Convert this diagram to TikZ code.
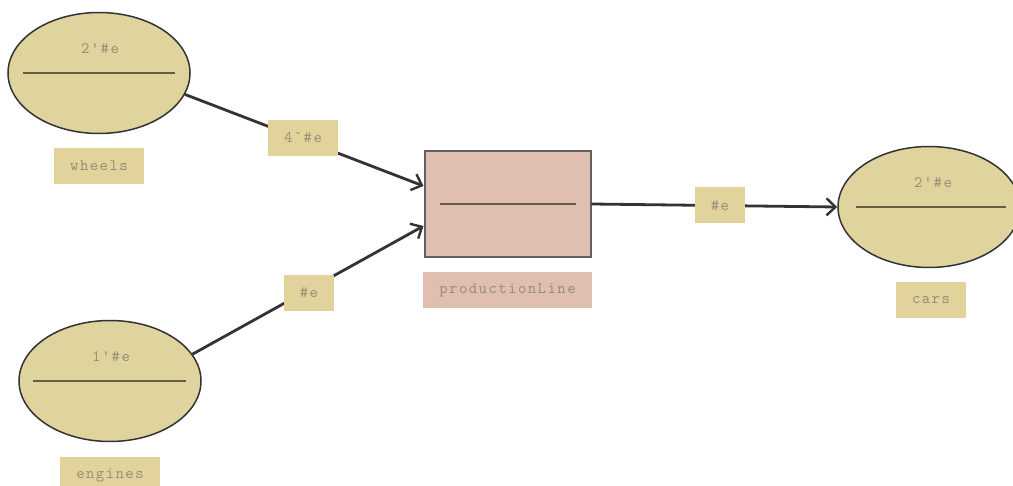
\documentclass[tikz,border=0pt]{standalone}
\usepackage{fontspec}
\usetikzlibrary{shapes.geometric,arrows.meta,calc}
\newfontfamily\petrimono{lmmono10-regular.otf}[LetterSpace=9]
\definecolor{placefill}{HTML}{E0D49E}
\definecolor{tagfill}{HTML}{E2D39C}
\definecolor{transfill}{HTML}{E0BEB0}
\definecolor{txtgray}{HTML}{988F78}
\definecolor{edgegray}{HTML}{333333}
\definecolor{barline}{HTML}{655C44}
\newcommand\petrifont{\petrimono\fontsize{16}{18}\selectfont}
\tikzset{
  place/.style={ellipse, draw=edgegray, line width=1.5pt, fill=placefill,
    minimum width=182pt, minimum height=121pt, inner sep=0pt},
  trans/.style={rectangle, draw=black!62, line width=2pt, fill=transfill,
    minimum width=166pt, minimum height=106pt, inner sep=0pt},
  tag/.style={rectangle, fill=tagfill, inner sep=0pt, minimum height=36pt,
    font=\petrifont, text=txtgray},
  ptag/.style={tag, fill=transfill},
  mark text/.style={font=\petrifont, text=txtgray, inner sep=0pt},
  bar/.style={draw=barline, line width=2.8pt},
  arc/.style={draw=edgegray, line width=2.8pt,
    -{Straight Barb[length=9pt,width=17pt,line width=2.4pt]}},
}
\begin{document}
\begin{tikzpicture}[x=1pt,y=-1pt]
\useasboundingbox (0,0) rectangle (1013,486);

% places
\node[place] (wheels) at (99,73) {};
\node[place] (engines) at (110,381) {};
\node[place] (cars) at (929,207) {};
% transition
\node[trans] (prod) at (507.5,204) {};

% separator bars and markings
\draw[bar] ($(wheels.center)+(-76,0)$) -- ($(wheels.center)+(76,0)$);
\draw[bar] ($(engines.center)+(-77,0)$) -- ($(engines.center)+(76,0)$);
\draw[bar] ($(cars.center)+(-73,0)$) -- ($(cars.center)+(77,0)$);
\draw[bar] ($(prod.center)+(-68,0)$) -- ($(prod.center)+(68,0)$);
\node[mark text] (mw) at (100,49) {2'\#e};
\node[mark text] (me) at (111,357) {1'\#e};
\node[mark text] (mc) at (933,183) {2'\#e};

% name tags
\node[tag, minimum width=90pt] (tw) at (99,166) {wheels};
\node[tag, minimum width=100pt] (te) at (110,475) {engines};
\node[tag, minimum width=70pt] (tc) at (931,300) {cars};
\node[ptag, minimum width=169pt] (tp) at (507.5,290) {productionLine};

% arcs
\coordinate (in1) at ($(prod.west)+(0,-18)$);
\coordinate (in2) at ($(prod.west)+(0,22)$);
\draw[arc] (wheels.-14) -- (in1);
\draw[arc] (engines.18) -- (in2);
\draw[arc] (prod.east) -- (cars.west);

% arc inscriptions
\node[tag, minimum width=70pt] (a1) at (303,138) {4`\#e};
\node[tag, minimum width=50pt] (a2) at (309,293) {\#e};
\node[tag, minimum width=50pt] (a3) at (720,205.5) {\#e};
\end{tikzpicture}
\end{document}
